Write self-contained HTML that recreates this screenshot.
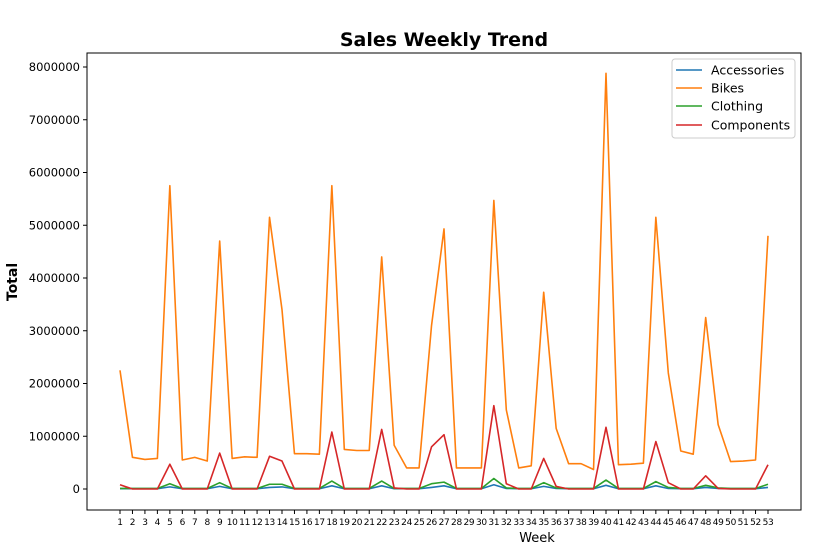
<!DOCTYPE html>
<html><head><meta charset="utf-8"><style>
body{margin:0;background:#fff;width:828px;height:545px;overflow:hidden}
svg{display:block;font-family:"DejaVu Sans","Liberation Sans",sans-serif}
</style></head><body>
<svg id="chart" width="828" height="545">
<text x="444" y="46" text-anchor="middle" font-size="19" font-weight="bold">Sales Weekly Trend</text>
<rect x="87" y="53" width="714" height="457" fill="none" stroke="#000" stroke-width="1"/>
<g id="yaxis"></g>
<g id="xaxis"></g>
<g id="series"></g>
<text x="537" y="542" text-anchor="middle" font-size="13">Week</text>
<text transform="translate(17,282) rotate(-90)" text-anchor="middle" font-size="14" font-weight="bold">Total</text>
<g>
<rect x="672" y="59" width="123" height="79" rx="3" fill="#fff" stroke="#ccc"/>
<g><line x1="676" y1="70" x2="702" y2="70" stroke="#1f77b4" stroke-width="1.6"/><text x="711" y="74.5" font-size="12.5">Accessories</text></g>
<g><line x1="676" y1="88" x2="702" y2="88" stroke="#ff7f0e" stroke-width="1.6"/><text x="711" y="92.5" font-size="12.5">Bikes</text></g>
<g><line x1="676" y1="106" x2="702" y2="106" stroke="#2ca02c" stroke-width="1.6"/><text x="711" y="110.5" font-size="12.5">Clothing</text></g>
<g><line x1="676" y1="125" x2="702" y2="125" stroke="#d62728" stroke-width="1.6"/><text x="711" y="129.5" font-size="12.5">Components</text></g>
</g>
</svg>
<script>
const weeks = Array.from({length:53},(_,i)=>i+1);
const yTicks = [0,1000000,2000000,3000000,4000000,5000000,6000000,7000000,8000000];
const bikes = [2.25,0.6,0.56,0.58,5.75,0.55,0.6,0.53,4.7,0.58,0.61,0.6,5.15,3.4,0.67,0.67,0.66,5.75,0.75,0.73,0.73,4.4,0.83,0.4,0.4,3.1,4.93,0.4,0.4,0.4,5.47,1.5,0.4,0.44,3.73,1.15,0.48,0.48,0.37,7.88,0.46,0.47,0.49,5.15,2.2,0.72,0.66,3.25,1.22,0.52,0.53,0.55,4.8].map(v=>v*1e6);
const components = [0.08,0,0,0,0.47,0,0,0,0.68,0,0,0,0.62,0.53,0,0,0,1.08,0,0,0,1.13,0.02,0,0,0.8,1.03,0,0,0,1.58,0.1,0,0,0.58,0.05,0,0,0,1.17,0,0,0,0.9,0.12,0,0,0.25,0.01,0,0,0,0.46].map(v=>v*1e6);
const clothing = [0.01,0.01,0.01,0.01,0.1,0.01,0.01,0.01,0.12,0.01,0.01,0.01,0.09,0.09,0.01,0.01,0.01,0.15,0.01,0.01,0.01,0.15,0.01,0.01,0.01,0.1,0.13,0.01,0.01,0.01,0.2,0.02,0.01,0.01,0.12,0.02,0.01,0.01,0.01,0.17,0.01,0.01,0.01,0.14,0.03,0.01,0.01,0.07,0.02,0.01,0.01,0.01,0.09].map(v=>v*1e6);
const accessories = [0.005,0.005,0.005,0.005,0.04,0.005,0.005,0.005,0.05,0.005,0.005,0.005,0.03,0.04,0.005,0.005,0.005,0.06,0.005,0.005,0.005,0.06,0.005,0.005,0.005,0.03,0.06,0.005,0.005,0.005,0.08,0.01,0.005,0.005,0.05,0.01,0.005,0.005,0.005,0.07,0.005,0.005,0.005,0.06,0.01,0.005,0.005,0.03,0.01,0.005,0.005,0.005,0.03].map(v=>v*1e6);
const NS='http://www.w3.org/2000/svg';
const x = w => 120 + (w-1)*(768-120)/52;
const y = v => 489 - v*(489-67)/8000000;
function mk(tag,attrs,parent){const e=document.createElementNS(NS,tag);for(const k in attrs)e.setAttribute(k,attrs[k]);parent.appendChild(e);return e;}
const ya=document.getElementById('yaxis'), xa=document.getElementById('xaxis'), sg=document.getElementById('series');
yTicks.forEach(t=>{
  const l=mk('line',{x1:83,x2:87,y1:y(t),y2:y(t),stroke:'#000'},ya);
  
  
  const tx=mk('text',{x:80,y:y(t)+4,'text-anchor':'end','font-size':'11.5'},ya);
  tx.textContent=t;
  
  
});
weeks.forEach(w=>{
  const l=mk('line',{x1:x(w),x2:x(w),y1:510,y2:514,stroke:'#000'},xa);
  
  
  const tx=mk('text',{x:x(w),y:525,'text-anchor':'middle','font-size':'9','letter-spacing':'-0.3'},xa);
  tx.textContent=w;
  
  
});
[['accessories',accessories,'#1f77b4'],['bikes',bikes,'#ff7f0e'],['clothing',clothing,'#2ca02c'],['components',components,'#d62728']].forEach(([n,d,c])=>{
  const p=mk('polyline',{points:d.map((v,i)=>x(weeks[i])+','+y(v)).join(' '),fill:'none',stroke:c,'stroke-width':1.6,'stroke-linejoin':'round'},sg);
  
  
});
</script>
</body></html>
